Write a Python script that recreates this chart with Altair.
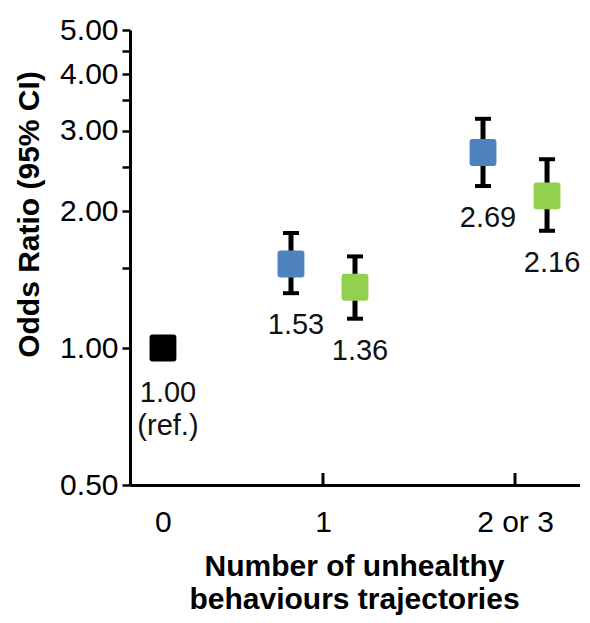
import altair as alt
import pandas as pd

# ---- data ----
categories = ["0", "1", "2 or 3"]
category_x = [0.0, 1.0, 2.2]
series_names = ["Reference", "Series A", "Series B"]
series_colors = ["#000000", "#4F81BD", "#92D050"]
series_shift = [0.0, -0.2, 0.2]

point_category = ["0", "1", "1", "2 or 3", "2 or 3"]
point_series = ["Reference", "Series A", "Series B", "Series A", "Series B"]
odds_ratio = [1.00, 1.53, 1.36, 2.69, 2.16]
ci_low = [1.00, 1.32, 1.16, 2.27, 1.81]
ci_high = [1.00, 1.79, 1.59, 3.19, 2.60]
point_label = ["1.00\n(ref.)", "1.53", "1.36", "2.69", "2.16"]

y_tick_values = [0.5, 1, 1.5, 2, 2.5, 3, 3.5, 4, 4.5, 5]
y_minor = [1.5, 2.5, 3.5, 4.5]

cx = dict(zip(categories, category_x))
sh = dict(zip(series_names, series_shift))
df = pd.DataFrame({
    "category": point_category,
    "series": point_series,
    "or": odds_ratio,
    "low": ci_low,
    "high": ci_high,
    "label": point_label,
})
df["x"] = [cx[c] + sh[s] for c, s in zip(point_category, point_series)]
ticks_df = pd.DataFrame({"x": category_x[1:]})

FONT = "Liberation Sans"
xscale = alt.Scale(domain=[-0.206, 2.606], nice=False, zero=False)
yscale = alt.Scale(type="log", domain=[0.5, 5], nice=False)

label_expr_x = "datum.value == 0 ? '0' : (datum.value == 1 ? '1' : '2 or 3')"
label_expr_y = ("indexof([" + ",".join(str(v) for v in y_minor) +
                "], datum.value) >= 0 ? '' : format(datum.value, '.2f')")

x_axis = alt.Axis(values=category_x, labelExpr=label_expr_x, ticks=False, tickSize=0,
                  labelPadding=46, labelBaseline="alphabetic", labelFontSize=30,
                  titleFontSize=30, titleFontWeight="bold", titleLineHeight=33,
                  titleY=90, titleX=224, titleBaseline="alphabetic", grid=False)
y_axis = alt.Axis(values=y_tick_values, labelExpr=label_expr_y, tickSize=8, tickWidth=2.5,
                  labelPadding=4, labelFontSize=30, titleFontSize=30, titleFontWeight="bold",
                  titleAngle=270, titleX=-101, titleY=184, titleAlign="center",
                  titleBaseline="middle", grid=False)
X_TITLE = ["Number of unhealthy", "behaviours trajectories"]
Y_TITLE = "Odds Ratio (95% CI)"


def X(field):
    return alt.X(field, scale=xscale, axis=x_axis, title=X_TITLE)


def Y(field):
    return alt.Y(field, scale=yscale, axis=y_axis, title=Y_TITLE)


base = alt.Chart(df)
nonref = base.transform_filter("datum.series != 'Reference'")

err = nonref.mark_rule(color="black", strokeWidth=5).encode(
    x=X("x:Q"), y=Y("low:Q"), y2="high:Q",
)

caps = nonref.transform_fold(["low", "high"], as_=["end", "val"]).mark_tick(
    color="black", orient="horizontal", size=16, thickness=4, opacity=1
).encode(x=X("x:Q"), y=Y("val:Q"))

square_path = ("M -1 -0.78 Q -1 -1 -0.78 -1 L 0.78 -1 Q 1 -1 1 -0.78 L 1 0.78 "
               "Q 1 1 0.78 1 L -0.78 1 Q -1 1 -1 0.78 Z")
points = base.mark_point(shape=square_path, filled=True, size=720, opacity=1,
                         strokeWidth=0).encode(
    x=X("x:Q"), y=Y("or:Q"),
    color=alt.Color("series:N", scale=alt.Scale(domain=series_names, range=series_colors),
                    legend=None),
)

labels = nonref.mark_text(align="center", baseline="alphabetic", dx=5, dy=41,
                          fontSize=29, font=FONT, color="#111111").encode(
    x=X("x:Q"), y=Y("low:Q"), text="label:N",
)

ref_label = base.transform_filter("datum.series == 'Reference'").mark_text(
    align="center", baseline="alphabetic", dx=5, dy=54, lineBreak="\n", lineHeight=33,
    fontSize=29, font=FONT, color="#111111").encode(
    x=X("x:Q"), y=Y("or:Q"), text="label:N",
)

xticks = alt.Chart(ticks_df).mark_rule(color="black", strokeWidth=3).encode(
    x=X("x:Q"),
    y=alt.value(443),
    y2=alt.value(455),
)

chart = alt.layer(err, caps, points, labels, ref_label, xticks).properties(
    width=450,
    height=455,
    autosize=alt.AutoSizeParams(type="none"),
    padding={"left": 122, "top": 22, "right": 0, "bottom": 130},
).configure_view(stroke=None).configure_axis(
    domainColor="black", domainWidth=3, tickColor="black", labelColor="black",
    titleColor="black", labelFont=FONT, titleFont=FONT,
)

chart.save("out.html", embed_options={"renderer": "svg", "actions": False})
